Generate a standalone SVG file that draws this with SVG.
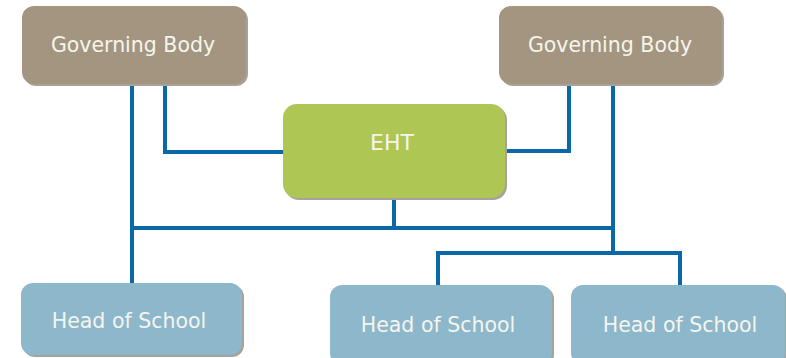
<svg xmlns="http://www.w3.org/2000/svg" width="786" height="358" viewBox="0 0 786 358">
<style>
.sh{fill:#a8a29a}
.gb{fill:#a39580}
.eht{fill:#aec653}
.hos{fill:#8db7ca}
.t{font-family:"DejaVu Sans",Verdana,sans-serif;font-size:20.5px;fill:#f5f5ee;text-anchor:middle}
.c{fill:none;stroke:#0a68a8;stroke-width:4;stroke-linejoin:miter;stroke-linecap:square}
</style>
<rect width="786" height="358" fill="#ffffff"/>
<g id="connectors">
<path class="c" d="M132,86 V281"/>
<path class="c" d="M165,86 V152 H283"/>
<path class="c" d="M569,86 V151 H505"/>
<path class="c" d="M613,86 V253"/>
<path class="c" d="M132,228 H613"/>
<path class="c" d="M394,198 V228"/>
<path class="c" d="M438,283 V253 H680 V283"/>
</g>
<g id="gb1">
<rect class="sh" x="24" y="8" width="224" height="78" rx="12"/>
<rect class="gb" x="22" y="6" width="224" height="78" rx="12"/>
<text class="t" x="133" y="52">Governing Body</text>
</g>
<g id="gb2">
<rect class="sh" x="501" y="8" width="223" height="78" rx="12"/>
<rect class="gb" x="499" y="6" width="223" height="78" rx="12"/>
<text class="t" x="610" y="52">Governing Body</text>
</g>
<g id="eht">
<rect class="sh" x="285" y="106" width="222" height="94" rx="14"/>
<rect class="eht" x="283" y="104" width="222" height="94" rx="14"/>
<text class="t" x="392" y="150" style="font-size:22px">EHT</text>
</g>
<g id="hos1">
<rect class="sh" x="23" y="285" width="221" height="72" rx="12"/>
<rect class="hos" x="21" y="283" width="221" height="72" rx="12"/>
<text class="t" x="129" y="328">Head of School</text>
</g>
<g id="hos2">
<rect class="sh" x="332" y="287" width="222" height="80" rx="12"/>
<rect class="hos" x="330" y="285" width="222" height="80" rx="12"/>
<text class="t" x="438" y="332">Head of School</text>
</g>
<g id="hos3">
<rect class="sh" x="573" y="287" width="214" height="80" rx="12"/>
<rect class="hos" x="571" y="285" width="214" height="80" rx="12"/>
<text class="t" x="680" y="332">Head of School</text>
</g>
</svg>
